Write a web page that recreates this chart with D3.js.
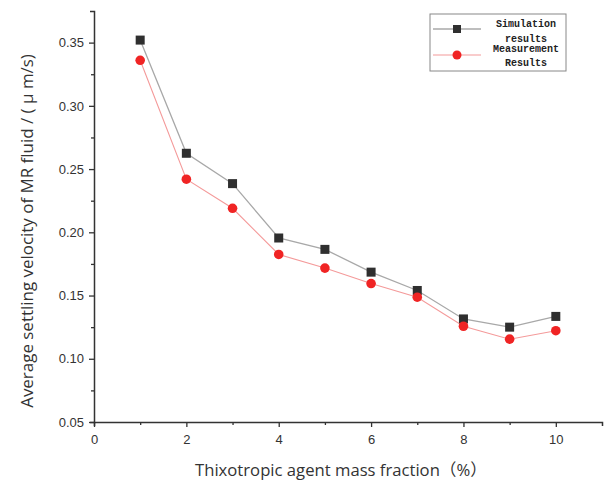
<!DOCTYPE html>
<html>
<head>
<meta charset="utf-8">
<script src="https://cdn.jsdelivr.net/npm/d3@7"></script>
<style>
  body { margin: 0; background: #fff; }
  text { font-family: "Liberation Sans", Arial, sans-serif; }
</style>
</head>
<body>
<svg id="chart"></svg>
<script>
const massFraction = [1, 2, 3, 4, 5, 6, 7, 8, 9, 10];
const simulation = [0.352, 0.2625, 0.2385, 0.1955, 0.1865, 0.1685, 0.154, 0.1315, 0.125, 0.1335];
const measurement = [0.336, 0.242, 0.219, 0.1825, 0.1717, 0.1595, 0.1487, 0.1257, 0.1155, 0.1222];
const xTicks = [0, 2, 4, 6, 8, 10];
const yTicks = [0.05, 0.10, 0.15, 0.20, 0.25, 0.30, 0.35];

const width = 606, height = 485;
const margin = {left: 94, right: 4, top: 11, bottom: 63};

let svg = d3.select('#chart').attr('width', width).attr('height', height);

let xScale = d3.scaleLinear()
    .domain([0, 11])
    .range([margin.left, width - margin.right]);
let yScale = d3.scaleLinear()
    .domain([0.05, 0.375])
    .range([height - margin.bottom, margin.top]);

// minor ticks first, then major axes on top
svg.append('g')
    .attr('transform', `translate(0, ${height - margin.bottom})`)
    .call(d3.axisBottom(xScale).tickValues(d3.range(1, 11, 2)).tickSize(3).tickFormat(''))
    .call(g => g.select('.domain').remove())
    .selectAll('line').attr('stroke', '#333').attr('stroke-width', 1.3);
svg.append('g')
    .attr('transform', `translate(${margin.left}, 0)`)
    .call(d3.axisLeft(yScale).tickValues(d3.range(0.075, 0.37, 0.05)).tickSize(3).tickFormat(''))
    .call(g => g.select('.domain').remove())
    .selectAll('line').attr('stroke', '#333').attr('stroke-width', 1.3);

let xAxis = svg.append('g')
    .attr('transform', `translate(0, ${height - margin.bottom})`)
    .call(d3.axisBottom(xScale).tickValues(xTicks).tickSize(5).tickSizeOuter(4));
let yAxis = svg.append('g')
    .attr('transform', `translate(${margin.left}, 0)`)
    .call(d3.axisLeft(yScale).tickValues(yTicks).tickSize(5).tickSizeOuter(4).tickFormat(d3.format('.2f')));

[xAxis, yAxis].forEach(ax => {
    ax.select('.domain').attr('stroke', '#333').attr('stroke-width', 1.5);
    ax.selectAll('.tick line').attr('stroke', '#333').attr('stroke-width', 1.3);
    ax.selectAll('.tick text').attr('fill', '#333').style('font-size', '13px')
        .style('font-family', '"Liberation Sans", Arial, sans-serif');
});
xAxis.selectAll('.tick text').attr('dy', '1.05em');
yAxis.selectAll('.tick text').attr('dx', '-0.15em');

// axis titles, sized to the span they take in the picture
function fitText(sel, target) {
    let w = sel.node().getComputedTextLength();
    let fs = parseFloat(sel.style('font-size'));
    sel.style('font-size', (fs * target / w).toFixed(2) + 'px');
}
let xTitle = svg.append('text')
    .attr('x', 341).attr('y', 476)
    .attr('text-anchor', 'middle')
    .attr('fill', '#333')
    .style('font-family', '"Open Sans", "Noto Sans CJK SC", sans-serif')
    .style('font-size', '14px')
    .text('Thixotropic agent mass fraction（%）');
fitText(xTitle, 292);
let yTitle = svg.append('text')
    .attr('transform', `translate(33, 231) rotate(-90)`)
    .attr('text-anchor', 'middle')
    .attr('fill', '#333')
    .style('font-family', '"Open Sans", sans-serif')
    .style('font-size', '14px')
    .text('Average settling velocity of MR fluid / ( μ m/s)');
fitText(yTitle, 354);

// series
let lineGen = d3.line()
    .x((d, i) => xScale(massFraction[i]))
    .y(d => yScale(d));

svg.append('path')
    .attr('d', lineGen(simulation))
    .attr('stroke', '#a8a8a8').attr('stroke-width', 1.3).attr('fill', 'none');
svg.append('path')
    .attr('d', lineGen(measurement))
    .attr('stroke', '#f49a9a').attr('stroke-width', 1.1).attr('fill', 'none');

svg.append('g').selectAll('rect')
    .data(simulation)
    .join('rect')
    .attr('x', (d, i) => xScale(massFraction[i]) - 4.5)
    .attr('y', d => yScale(d) - 4.5)
    .attr('width', 9).attr('height', 9)
    .attr('fill', '#2f2f2f');
svg.append('g').selectAll('circle')
    .data(measurement)
    .join('circle')
    .attr('cx', (d, i) => xScale(massFraction[i]))
    .attr('cy', d => yScale(d))
    .attr('r', 4.8)
    .attr('fill', '#f02424');

// legend
let legend = svg.append('g').attr('transform', 'translate(430, 14)');
legend.append('rect')
    .attr('width', 136).attr('height', 57)
    .attr('fill', '#fff').attr('stroke', '#888').attr('stroke-width', 1);
legend.append('line').attr('x1', 3).attr('x2', 51).attr('y1', 15).attr('y2', 15)
    .attr('stroke', '#a8a8a8').attr('stroke-width', 1.3);
legend.append('rect').attr('x', 23).attr('y', 11).attr('width', 8).attr('height', 8).attr('fill', '#2f2f2f');
legend.append('line').attr('x1', 3).attr('x2', 51).attr('y1', 41).attr('y2', 41)
    .attr('stroke', '#f49a9a').attr('stroke-width', 1.1);
legend.append('circle').attr('cx', 27).attr('cy', 41).attr('r', 4.5).attr('fill', '#f02424');

const legendLines = [['Simulation', 13], ['results', 28], ['Measurement', 38], ['Results', 52]];
legend.selectAll('text.lg')
    .data(legendLines)
    .join('text')
    .attr('class', 'lg')
    .attr('x', 96).attr('y', d => d[1])
    .attr('text-anchor', 'middle')
    .attr('fill', '#222')
    .style('font-family', '"Liberation Mono", "DejaVu Sans Mono", monospace')
    .style('font-size', '10px')
    .style('font-weight', 'bold')
    .text(d => d[0]);
</script>
</body>
</html>
